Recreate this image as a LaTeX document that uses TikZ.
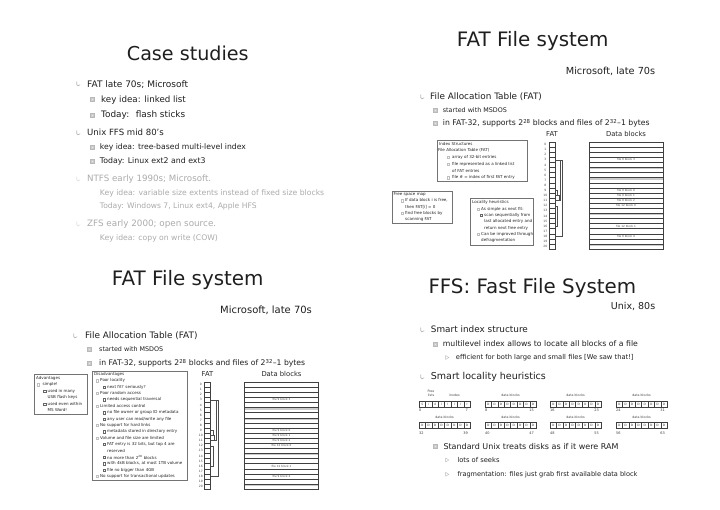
\documentclass[tikz,border=0pt]{standalone}
\usepackage{fontspec}
\setmainfont{DejaVu Sans}
\usepackage{graphicx}
\newcommand\tline[6][tx]{\node[#1] (#2) at (#3,#4) {\resizebox{#5pt}{!}{#6}};}
\newcommand\bxt[4]{\node[bt] (#1) at (#2,#3) {#4};}
\tikzset{
  tx/.style={anchor=base west, inner sep=0pt, text=black!88},
  gtx/.style={tx, text=black!33},
  bt/.style={anchor=west, inner sep=0pt, font=\fontsize{4.05}{5}\selectfont, text=black!85},
  boxfr/.style={draw=black!55, line width=0.4pt},
  cellst/.style={draw=black!75, line width=0.4pt},
  brk/.style={draw=black!70, line width=0.4pt},
  numst/.style={inner sep=0pt, font=\fontsize{3}{3.5}\selectfont, text=black!75},
  dlab/.style={inner sep=0pt, font=\fontsize{2.8}{3.2}\selectfont, text=black!70},
  hlab/.style={inner sep=0pt, font=\fontsize{6.8}{8}\selectfont, text=black!85},
  iconA/.pic={\draw[gray!55, line width=0.7pt, line cap=round] (-1.3,-2.3) -- (-1.3,0.6) .. controls (-1.3,2.2) and (0.6,2.2) .. (2,0.8);},
  iconAf/.pic={\draw[gray!22, line width=0.7pt, line cap=round] (-1.3,-2.3) -- (-1.3,0.6) .. controls (-1.3,2.2) and (0.6,2.2) .. (2,0.8);},
  iconB/.pic={\filldraw[fill=gray!18, draw=gray!55, line width=0.4pt] (-2,-2) rectangle (2,2); \draw[gray!40, line width=0.3pt] (-1,-1) rectangle (1,1);},
  iconC/.pic={\draw[gray!55, line width=0.4pt, line join=round] (-1.4,-2) -- (1.8,0) -- (-1.4,2) -- cycle;},
  sA/.pic={\draw[gray!50, line width=0.3pt] (-0.9,-1.2) rectangle (0.9,1.2);},
  sB/.pic={\draw[black!60, line width=0.3pt] (-1.2,-1.2) rectangle (1.2,1.2);},
  fatdiag/.pic={
    \node[hlab] (fl) at (3,-8) {FAT};
    \node[hlab] (dl) at (77,-8) {Data blocks};
    \foreach \i in {0,...,20} {\node[numst] (n\i) at (-3.6,{(\i+0.5)*5.1}) {\i};}
    \foreach \r in {5,7,14,20} {\fill[gray!40] (40,{\r*5.1+0.3}) rectangle (114,{\r*5.1+2});}
    \draw[cellst] (0,0) rectangle (6,107.1);
    \foreach \i in {1,...,20} {\draw[cellst] (0,{\i*5.1}) -- (6,{\i*5.1});}
    \draw[cellst] (40,0) rectangle (114,107.1);
    \foreach \i in {1,...,20} {\draw[cellst] (40,{\i*5.1}) -- (114,{\i*5.1});}
    \node[dlab] (b93) at (77,{3.5*5.1}) {file 9 block 3};
    \node[dlab] (b90) at (77,{9.5*5.1}) {file 9 block 0};
    \node[dlab] (b91) at (77,{10.5*5.1}) {file 9 block 1};
    \node[dlab] (b92) at (77,{11.5*5.1}) {file 9 block 2};
    \node[dlab] (b120) at (77,{12.5*5.1}) {file 12 block 0};
    \node[dlab] (b121) at (77,{16.5*5.1}) {file 12 block 1};
    \node[dlab] (b94) at (77,{18.5*5.1}) {file 9 block 4};
    \draw[brk] (6,{9.5*5.1}) -- (8.3,{9.5*5.1}) -- (8.3,{10.5*5.1}) -- (6,{10.5*5.1});
    \draw[brk] (6,{10.5*5.1}) -- (9.8,{10.5*5.1}) -- (9.8,{11.5*5.1}) -- (6,{11.5*5.1});
    \draw[brk] (6,{11.5*5.1}) -- (11.3,{11.5*5.1}) -- (11.3,{3.5*5.1}) -- (6,{3.5*5.1});
    \draw[brk] (6,{3.5*5.1}) -- (13.5,{3.5*5.1}) -- (13.5,{18.5*5.1}) -- (6,{18.5*5.1});
    \draw[brk] (6,{12.5*5.1}) -- (8.3,{12.5*5.1}) -- (8.3,{16.5*5.1}) -- (6,{16.5*5.1});
  }
}
\begin{document}
\begin{tikzpicture}[x=1pt,y=-1pt]
\useasboundingbox (0,0) rectangle (720,510);
\fill[white] (0,0) rectangle (720,510);

% ================= top-left: Case studies
\tline{t1title}{126.7}{61}{121.7}{Case studies}
\pic at (78,84) {iconA};
\tline{t1a}{87}{87.3}{101}{FAT late 70s; Microsoft}
\pic at (92,99) {iconB};
\tline{t1a1}{101}{102.3}{84.7}{key idea: linked list}
\pic at (92,115) {iconB};
\tline{t1a2}{101}{117.7}{84}{Today:~ flash sticks}
\pic at (78,133) {iconA};
\tline{t1b}{87}{136}{76.7}{Unix FFS mid 80’s}
\pic at (92,147) {iconB};
\tline{t1b1}{99.7}{149.7}{146}{key idea: tree-based multi-level index}
\pic at (92,161) {iconB};
\tline{t1b2}{99.7}{164}{105.7}{Today: Linux ext2 and ext3}
\pic at (78,179) {iconAf};
\tline[gtx]{t1c}{87}{182}{124}{NTFS early 1990s; Microsoft.}
\tline[gtx]{t1c1}{99.7}{195.7}{224.3}{Key idea: variable size extents instead of fixed size blocks}
\tline[gtx]{t1c2}{99.7}{209}{156.7}{Today: Windows 7, Linux ext4, Apple HFS}
\pic at (78,224) {iconAf};
\tline[gtx]{t1d}{87}{227}{129}{ZFS early 2000; open source.}
\tline[gtx]{t1d1}{99.7}{241}{118}{Key idea: copy on write (COW)}

% ================= top-right: FAT File system
\tline{t2title}{456.7}{46.7}{151.7}{FAT File system}
\tline{t2sub}{565.7}{75}{89.3}{Microsoft, late 70s}
\pic at (422,97) {iconA};
\tline{t2a}{430}{99.3}{111.7}{File Allocation Table (FAT)}
\pic at (435,110) {iconB};
\tline{t2a1}{442.7}{112.7}{64}{started with MSDOS}
\pic at (435,123) {iconB};
\tline{t2a2}{442.7}{126}{206.7}{in FAT-32, supports 2\textsuperscript{28} blocks and files of 2\textsuperscript{32}–1 bytes}

\pic (fa) at (549,142) {fatdiag};

\draw[boxfr] (437,140) rectangle (527,181);
\bxt{i0}{439}{144}{Index Structures}
\bxt{i1}{438}{150.7}{File Allocation Table (FAT)}
\pic at (448.5,157.4) {sA};
\bxt{i2}{452}{157.4}{array of 32-bit entries}
\pic at (448.5,164.1) {sA};
\bxt{i3}{452}{164.1}{file represented as a linked list}
\bxt{i4}{452}{170.8}{of FAT entries}
\pic at (448.5,177.5) {sA};
\bxt{i5}{452}{177.5}{file \# = index of first FAT entry}

\draw[boxfr] (392,191) rectangle (452,223.5);
\bxt{f0}{393.5}{194.3}{Free space map}
\pic at (402,200.6) {sA};
\bxt{f1}{405}{200.6}{If data block i is free,}
\bxt{f2}{405}{206.9}{then FAT[i] = 0}
\pic at (402,213.2) {sA};
\bxt{f3}{405}{213.2}{find free blocks by}
\bxt{f4}{405}{219.5}{scanning FAT}

\draw[boxfr] (470,198) rectangle (533,245);
\bxt{l0}{472}{202.7}{Locality heuristics}
\pic at (478,209) {sA};
\bxt{l1}{481}{209}{As simple as next fit:}
\pic at (481,215.3) {sB};
\bxt{l2}{484}{215.3}{scan sequentially from}
\bxt{l3}{484}{221.6}{last allocated entry and}
\bxt{l4}{484}{227.9}{return next free entry}
\pic at (478,234.2) {sA};
\bxt{l5}{481}{234.2}{Can be improved through}
\bxt{l6}{481}{240.5}{defragmentation}

% ================= bottom-left: FAT File system
\tline{t3title}{111.7}{286}{151.7}{FAT File system}
\tline{t3sub}{220}{314}{91.7}{Microsoft, late 70s}
\pic at (75,336) {iconA};
\tline{t3a}{85}{338.3}{112.3}{File Allocation Table (FAT)}
\pic at (89,349.3) {iconB};
\tline{t3a1}{99}{352}{64}{started with MSDOS}
\pic at (89,363) {iconB};
\tline{t3a2}{99}{366}{206}{in FAT-32, supports 2\textsuperscript{28} blocks and files of 2\textsuperscript{32}–1 bytes}

\pic (fb) at (204.5,382) {fatdiag};

\draw[boxfr] (34,374) rectangle (87,414.5);
\bxt{a0}{36}{378.3}{Advantages}
\pic at (38.5,384.7) {sA};
\bxt{a1}{42.5}{384.7}{simple!}
\pic at (44.5,391.1) {sB};
\bxt{a2}{47.5}{391.1}{used in many}
\bxt{a3}{47.5}{397.5}{USB flash keys}
\pic at (44.5,403.9) {sB};
\bxt{a4}{47.5}{403.9}{used even within}
\bxt{a5}{47.5}{410.3}{MS Word!}

\draw[boxfr] (92,371) rectangle (187,480);
\bxt{d0}{94}{374.3}{Disadvantages}
\pic at (97,380.7) {sA};
\bxt{d1}{100}{380.7}{Poor locality}
\pic at (104,387.1) {sB};
\bxt{d2}{107}{387.1}{next fit? seriously?}
\pic at (97,393.4) {sA};
\bxt{d3}{100}{393.4}{Poor random access}
\pic at (104,399.8) {sB};
\bxt{d4}{107}{399.8}{needs sequential traversal}
\pic at (97,406.2) {sA};
\bxt{d5}{100}{406.2}{Limited access control}
\pic at (104,412.6) {sB};
\bxt{d6}{107}{412.6}{no file owner or group ID metadata}
\pic at (104,418.9) {sB};
\bxt{d7}{107}{418.9}{any user can read/write any file}
\pic at (97,425.3) {sA};
\bxt{d8}{100}{425.3}{No support for hard links}
\pic at (104,431.7) {sB};
\bxt{d9}{107}{431.7}{metadata stored in directory entry}
\pic at (97,438.1) {sA};
\bxt{d10}{100}{438.1}{Volume and file size are limited}
\pic at (104,444.4) {sB};
\bxt{d11}{107}{444.4}{FAT entry is 32 bits, but top 4 are}
\bxt{d12}{107}{450.8}{reserved}
\pic at (104,457.2) {sB};
\bxt{d13}{107}{457.2}{no more than 2\textsuperscript{28} blocks}
\pic at (104,463.6) {sB};
\bxt{d14}{107}{463.6}{with 4kB blocks, at most 1TB volume}
\pic at (104,469.9) {sB};
\bxt{d15}{107}{469.9}{file no bigger than 4GB}
\pic at (97,476.3) {sA};
\bxt{d16}{100}{476.3}{No support for transactional updates}

% ================= bottom-right: FFS
\tline{t4title}{428.3}{293.3}{207.7}{FFS: Fast File System}
\tline{t4sub}{610.7}{310}{44.3}{Unix, 80s}
\pic at (422,330) {iconA};
\tline{t4a}{430.7}{332.7}{97}{Smart index structure}
\pic at (435,344) {iconB};
\tline{t4a1}{442.7}{346.7}{195}{multilevel index allows to locate all blocks of a file}
\pic at (447,357.5) {iconC};
\tline{t4a2}{455.7}{360}{177.7}{efficient for both large and small files [We saw that!]}
\pic at (422,377) {iconA};
\tline{t4b}{430.7}{380}{115}{Smart locality heuristics}
\pic at (435,446.5) {iconB};
\tline{t4b1}{443.3}{449}{175}{Standard Unix treats disks as if it were RAM}
\pic at (447,460) {iconC};
\tline{t4b2}{457.3}{462.3}{42}{lots of seeks}
\pic at (447,474.3) {iconC};
\tline{t4b3}{457.3}{476.7}{180}{fragmentation: files just grab first available data block}

% disk blocks
\node[numst, align=center, font=\fontsize{3.2}{3.8}\selectfont] (freel) at (431,393) {Free\\lists};
\node[numst, font=\fontsize{3.2}{3.8}\selectfont] (inod) at (454.5,395) {inodes};
\foreach \gx [count=\g] in {419,485,550,616} {
  \ifnum\g>1 \node[numst, font=\fontsize{3.2}{3.8}\selectfont] (dbl\g) at ({\gx+25.6},395) {data blocks};\fi
  \node[numst, font=\fontsize{3.2}{3.8}\selectfont] (dbm\g) at ({\gx+25.6},417) {data blocks};
  \foreach \c in {0,...,7} {
    \draw[cellst] ({\gx+\c*6.4},401) rectangle ({\gx+\c*6.4+6.4},407);
    \draw[cellst] ({\gx+\c*6.4},422) rectangle ({\gx+\c*6.4+6.4},428);
    \node[numst] (cb\g\c) at ({\gx+\c*6.4+3.2},425) {D};
  }
}
\foreach \c/\l in {0/S,1/i,2/d,3/I,4/I,5/I,6/I,7/I} {\node[numst] (ca\c) at ({419+\c*6.4+3.2},404) {\l};}
\foreach \gx [count=\g] in {485,550,616} {
  \foreach \c in {0,...,7} {\node[numst] (cd\g\c) at ({\gx+\c*6.4+3.2},404) {D};}
}
\foreach \gx/\lo/\hi/\la/\lb [count=\g] in {419/0/7/32/39,485/8/15/40/47,550/16/23/48/55,616/24/31/56/63} {
  \node[numst, anchor=west, font=\fontsize{3.5}{4}\selectfont] (lo\g) at (\gx,410.5) {\lo};
  \node[numst, anchor=east, font=\fontsize{3.5}{4}\selectfont] (hi\g) at ({\gx+49},410.5) {\hi};
  \node[numst, anchor=west, font=\fontsize{3.5}{4}\selectfont] (la\g) at (\gx,433) {\la};
  \node[numst, anchor=east, font=\fontsize{3.5}{4}\selectfont] (lb\g) at ({\gx+49},433) {\lb};
}
\end{tikzpicture}
\end{document}
